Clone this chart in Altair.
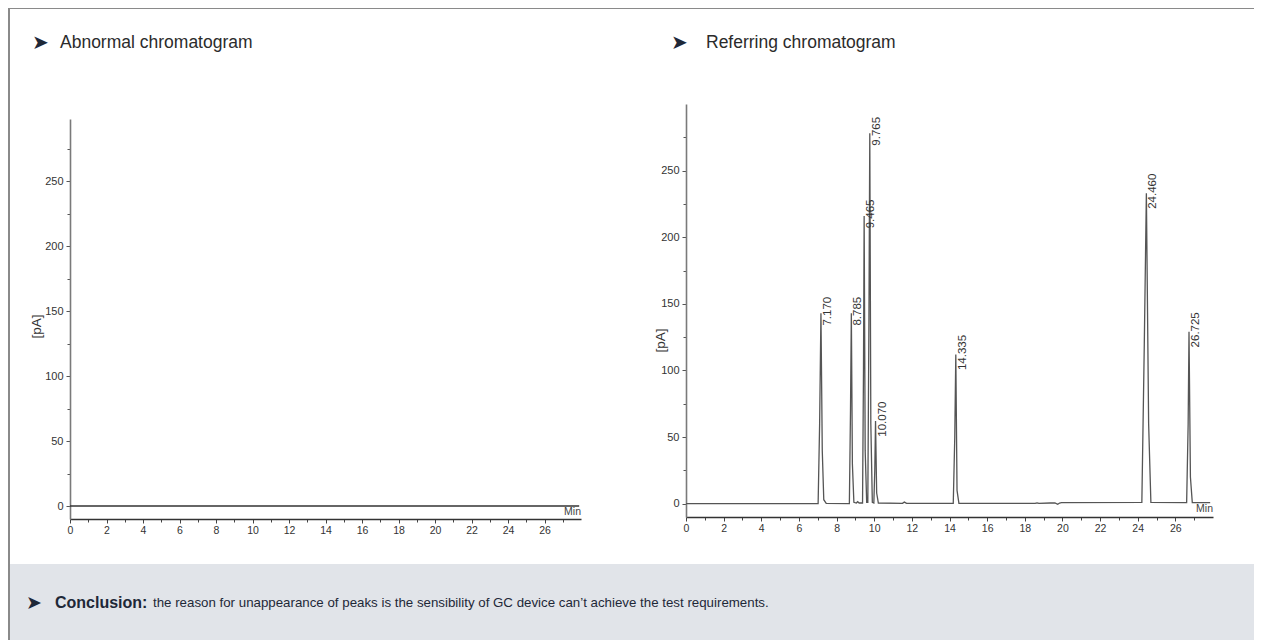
import altair as alt
import pandas as pd

# ---------------- data ----------------
ref_time = [0.0, 7.02, 7.10, 7.17, 7.24, 7.32, 7.45, 8.68, 8.74, 8.785, 8.84, 8.92,
            9.05, 9.12, 9.20, 9.38, 9.43, 9.465, 9.52, 9.60, 9.66, 9.72, 9.765, 9.82,
            9.90, 9.98, 10.03, 10.07, 10.13, 10.22, 11.50, 11.60, 11.72, 13.80, 14.20,
            14.28, 14.335, 14.40, 14.50, 18.55, 18.65, 18.75, 19.35, 19.60, 19.75, 19.85,
            19.95, 24.22, 24.35, 24.46, 24.58, 24.70, 26.60, 26.68, 26.725, 26.80, 26.90, 27.85]
ref_signal = [0.0, 0.0, 60, 143, 40, 3, 0.3, 0.0, 70, 143, 30, 1.0,
              0.5, 1.5, 0.5, 0.5, 100, 216, 40, 1.0, 1.0, 140, 278, 60,
              1.0, 0.5, 25, 62, 8, 0.5, 0.3, 1.2, 0.3, 0.3, 0.2,
              50, 112, 10, 0.2, 0.2, 0.6, 0.2, 0.5, 0.6, -0.5, 0.5,
              0.8, 1.0, 120, 233, 60, 1.0, 0.8, 60, 129, 20, 0.8, 0.8]
abn_time = [0.0, 27.9]
abn_signal = [0.0, 0.0]
peak_rt = [7.170, 8.785, 9.465, 9.765, 10.070, 14.335, 24.460, 26.725]
peak_height = [143, 143, 216, 278, 62, 112, 233, 129]
peak_label = ["7.170", "8.785", "9.465", "9.765", "10.070", "14.335", "24.460", "26.725"]
x_ticks = list(range(0, 28))
y_ticks = list(range(0, 300, 25))

title_left = "Abnormal chromatogram"
title_right = "Referring chromatogram"
concl_bold = "Conclusion:"
concl_text = ("the reason for unappearance of peaks is the sensibility of GC device "
              "can\u2019t achieve the test requirements.")

# ---------------- layout ----------------
W, H = 1246, 632
FONT = "Liberation Sans, Arial, Helvetica, sans-serif"
TXT = "#2b2b2b"
NAVY = "#1e2838"


def x_axis(offset):
    return alt.Axis(orient="bottom", offset=offset, values=x_ticks, grid=False, title=None,
                    labelExpr="datum.value % 2 === 0 ? datum.label : ''",
                    tickSize={"condition": {"test": "datum.value % 2 === 0", "value": 4}, "value": 3},
                    domainColor="#333333", domainWidth=1.3, tickColor="#444444",
                    labelColor="#333333", labelFont=FONT, labelFontSize=10.5,
                    labelPadding=2, labelFlush=False, labelOverlap=False)


def y_axis(offset, title_x, title_y):
    return alt.Axis(orient="left", offset=offset, values=y_ticks, grid=False, title="[pA]",
                    labelExpr="datum.value % 50 === 0 ? datum.label : ''",
                    tickSize={"condition": {"test": "datum.value % 50 === 0", "value": 4}, "value": 3},
                    domainColor="#7a7a7a", domainWidth=1.6, tickColor="#555555",
                    labelColor="#333333", labelFont=FONT, labelFontSize=11,
                    labelPadding=3, labelFlush=False, labelOverlap=False,
                    titleFont=FONT, titleFontSize=13.5, titleFontWeight="normal",
                    titleColor="#333333", titleAngle=270, titleX=title_x, titleY=title_y,
                    titleAlign="center", titleBaseline="middle")


# left (abnormal) chart
lx = alt.Scale(domain=[0, 28], range=[62, 573], nice=False, zero=False)
ly = alt.Scale(domain=[-10, 298], range=[511, 111], nice=False, zero=False)
abn_df = pd.DataFrame({"t": abn_time, "s": abn_signal})
one = pd.DataFrame({"k": [0]})
left_line = alt.Chart(abn_df).mark_line(color="#333333", strokeWidth=1.4).encode(
    x=alt.X("t:Q", scale=lx, axis=x_axis(511 - H)),
    y=alt.Y("s:Q", scale=ly, axis=y_axis(-62, -34, 318)),
)
left_min = alt.Chart(one).mark_text(
    text="Min", align="right", baseline="bottom", dy=-2, font=FONT, fontSize=10.5, color="#444444"
).encode(x=alt.datum(28), y=alt.datum(-10))
left = alt.layer(left_line, left_min)

# right (referring) chart
rx = alt.Scale(domain=[0, 28], range=[678, 1205], nice=False, zero=False)
ry = alt.Scale(domain=[-10, 300], range=[509, 96], nice=False, zero=False)
ref_df = pd.DataFrame({"t": ref_time, "s": ref_signal})
peak_df = pd.DataFrame({"t": peak_rt, "s": peak_height, "label": peak_label})
right_line = alt.Chart(ref_df).mark_line(color="#555555", strokeWidth=1.3).encode(
    x=alt.X("t:Q", scale=rx, axis=x_axis(509 - H)),
    y=alt.Y("s:Q", scale=ry, axis=y_axis(-678, -26, 332)),
)
right_lab = alt.Chart(peak_df).mark_text(
    angle=270, align="center", baseline="top", dx=2, dy=1, font=FONT, fontSize=11.5, color="#333333"
).encode(x="t:Q", y="s:Q", text="label:N")
right_min = alt.Chart(one).mark_text(
    text="Min", align="right", baseline="bottom", dy=-3, font=FONT, fontSize=10.5, color="#444444"
).encode(x=alt.datum(28), y=alt.datum(-10))
right = alt.layer(right_line, right_lab, right_min)

# decorations
panel = alt.Chart(one).mark_rect(color="#e1e4e9").encode(
    x=alt.value(1), x2=alt.value(W), y=alt.value(556), y2=alt.value(H))
border_top = alt.Chart(one).mark_rule(color="#8a8a8a", strokeWidth=2).encode(
    x=alt.value(0), x2=alt.value(W), y=alt.value(0))
border_left = alt.Chart(one).mark_rule(color="#8a8a8a", strokeWidth=2).encode(
    x=alt.value(1), y=alt.value(0), y2=alt.value(H))


def txt(x, y, s, size=16, weight="normal", font=FONT, color=TXT):
    return alt.Chart(one).mark_text(
        align="left", baseline="middle", font=font, fontSize=size, fontWeight=weight, color=color
    ).encode(x=alt.value(x), y=alt.value(y), text=alt.value(s))


arrow = "\u27a4"
deco = alt.layer(
    panel, border_top, border_left,
    txt(24, 35, arrow, 20, font="DejaVu Sans", color=NAVY),
    txt(52, 35, title_left, 17.5),
    txt(663, 35, arrow, 20, font="DejaVu Sans", color=NAVY),
    txt(698, 35, title_right, 17.5),
    txt(18, 595, arrow, 19, font="DejaVu Sans", color=NAVY),
    txt(47, 595, concl_bold, 16, weight="bold", color=NAVY),
    txt(145, 595, concl_text, 13.3, color=NAVY),
)

chart = alt.layer(deco, left, right).resolve_scale(
    x="independent", y="independent"
).properties(
    width=W, height=H, autosize=alt.AutoSizeParams(type="none"), padding=0
).configure_view(stroke=None).configure(background="white")

chart.save("out.html", embed_options={"renderer": "svg", "actions": False})
